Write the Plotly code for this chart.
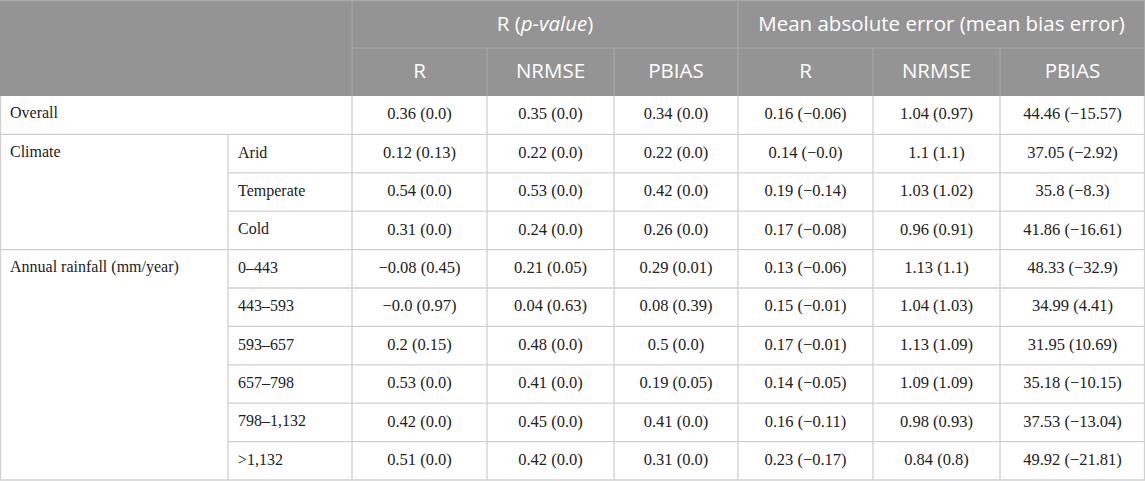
import plotly.graph_objects as go

# ---- table content ----
groups = ["R (<i>p-value</i>)", "Mean absolute error (mean bias error)"]
metrics = ["R", "NRMSE", "PBIAS"]

row_groups = ["Overall", "Climate", "Climate", "Climate",
              "Annual rainfall (mm/year)", "Annual rainfall (mm/year)",
              "Annual rainfall (mm/year)", "Annual rainfall (mm/year)",
              "Annual rainfall (mm/year)", "Annual rainfall (mm/year)"]
sub_labels = ["", "Arid", "Temperate", "Cold", "0–443", "443–593",
              "593–657", "657–798", "798–1,132", ">1,132"]

r_r = ["0.36 (0.0)", "0.12 (0.13)", "0.54 (0.0)", "0.31 (0.0)", "−0.08 (0.45)",
       "−0.0 (0.97)", "0.2 (0.15)", "0.53 (0.0)", "0.42 (0.0)", "0.51 (0.0)"]
r_nrmse = ["0.35 (0.0)", "0.22 (0.0)", "0.53 (0.0)", "0.24 (0.0)", "0.21 (0.05)",
           "0.04 (0.63)", "0.48 (0.0)", "0.41 (0.0)", "0.45 (0.0)", "0.42 (0.0)"]
r_pbias = ["0.34 (0.0)", "0.22 (0.0)", "0.42 (0.0)", "0.26 (0.0)", "0.29 (0.01)",
           "0.08 (0.39)", "0.5 (0.0)", "0.19 (0.05)", "0.41 (0.0)", "0.31 (0.0)"]
mae_r = ["0.16 (−0.06)", "0.14 (−0.0)", "0.19 (−0.14)", "0.17 (−0.08)", "0.13 (−0.06)",
         "0.15 (−0.01)", "0.17 (−0.01)", "0.14 (−0.05)", "0.16 (−0.11)", "0.23 (−0.17)"]
mae_nrmse = ["1.04 (0.97)", "1.1 (1.1)", "1.03 (1.02)", "0.96 (0.91)", "1.13 (1.1)",
             "1.04 (1.03)", "1.13 (1.09)", "1.09 (1.09)", "0.98 (0.93)", "0.84 (0.8)"]
mae_pbias = ["44.46 (−15.57)", "37.05 (−2.92)", "35.8 (−8.3)", "41.86 (−16.61)",
             "48.33 (−32.9)", "34.99 (4.41)", "31.95 (10.69)", "35.18 (−10.15)",
             "37.53 (−13.04)", "49.92 (−21.81)"]
data_cols = [r_r, r_nrmse, r_pbias, mae_r, mae_nrmse, mae_pbias]

# ---- layout sizes (pixels) ----
W, H = 1145, 481
col_edges = [0, 228, 352, 487, 614, 738, 873, 1000, 1145]
head_h = 48
row_h = 38.4
body_top = 2 * head_h

HEAD_BG = "#949494"
HEAD_LINE = "#a9a9a9"
BODY_LINE = "#d0d0d0"
TEXT = "#222222"

shapes = []


def line(x0, y0, x1, y1, color, w=1):
    shapes.append(dict(type="line", xref="x", yref="y", x0=x0, y0=y0, x1=x1, y1=y1,
                       line=dict(color=color, width=w), layer="above"))


# header background
shapes.append(dict(type="rect", xref="x", yref="y", x0=0, y0=0, x1=W, y1=body_top,
                   fillcolor=HEAD_BG, line=dict(width=0), layer="below"))

# header lines
grp_edges = [col_edges[2], col_edges[5], col_edges[8]]
for x in grp_edges[:-1]:
    line(x, 0, x, body_top, HEAD_LINE)
for x in [col_edges[3], col_edges[4], col_edges[6], col_edges[7]]:
    line(x, head_h, x, body_top, HEAD_LINE)
line(col_edges[2], head_h, W, head_h, HEAD_LINE)
line(0, 0.5, W, 0.5, HEAD_LINE)
line(W - 0.5, 0, W - 0.5, body_top, HEAD_LINE)

n = len(row_groups)
body_bot = body_top + n * row_h

# body horizontal lines
for i in range(n):
    yb = body_top + (i + 1) * row_h
    new_group = i == n - 1 or row_groups[i + 1] != row_groups[i]
    line(0 if new_group else col_edges[1], yb, W, yb, BODY_LINE, 1.3)

# body vertical lines
for x in col_edges[2:-1]:
    line(x, body_top, x, body_bot, BODY_LINE, 1.3)
first_sub = next(i for i, s in enumerate(sub_labels) if s)
line(col_edges[1], body_top + first_sub * row_h, col_edges[1], body_bot, BODY_LINE, 1.3)
line(0.5, body_top, 0.5, body_bot, BODY_LINE, 1.3)
line(W - 0.5, body_top, W - 0.5, body_bot, BODY_LINE, 1.3)

# ---- text ----
head_x, head_y, head_t = [], [], []
for g, txt in enumerate(groups):
    head_x.append((grp_edges[g] + grp_edges[g + 1]) / 2)
    head_y.append(head_h / 2 + 2)
    head_t.append(txt)
for c in range(6):
    head_x.append((col_edges[c + 2] + col_edges[c + 3]) / 2)
    head_y.append(head_h * 1.5 + 1)
    head_t.append(metrics[c % 3])

cell_x, cell_y, cell_t = [], [], []
for c, col in enumerate(data_cols):
    for i, v in enumerate(col):
        cell_x.append((col_edges[c + 2] + col_edges[c + 3]) / 2)
        cell_y.append(body_top + (i + 0.5) * row_h)
        cell_t.append(v)

lab_x, lab_y, lab_t = [], [], []
for i, g in enumerate(row_groups):
    if i == 0 or row_groups[i - 1] != g:
        lab_x.append(col_edges[0] + 10)
        lab_y.append(body_top + (i + 0.5) * row_h - 1)
        lab_t.append(g)
    if sub_labels[i]:
        lab_x.append(col_edges[1] + 10)
        lab_y.append(body_top + (i + 0.5) * row_h)
        lab_t.append(sub_labels[i])

fig = go.Figure()
fig.add_trace(go.Scatter(x=head_x, y=head_y, text=head_t, mode="text",
                         textposition="middle center", hoverinfo="skip",
                         textfont=dict(family="Open Sans", size=20.5, color="white")))
fig.add_trace(go.Scatter(x=cell_x, y=cell_y, text=cell_t, mode="text",
                         textposition="middle center", hoverinfo="skip",
                         textfont=dict(family="Liberation Serif", size=16.5, color=TEXT)))
fig.add_trace(go.Scatter(x=lab_x, y=lab_y, text=lab_t, mode="text",
                         textposition="middle right", hoverinfo="skip",
                         textfont=dict(family="Liberation Serif", size=16, color=TEXT)))

fig.update_layout(
    width=W, height=H,
    margin=dict(l=0, r=0, t=0, b=0),
    paper_bgcolor="white", plot_bgcolor="white",
    showlegend=False, shapes=shapes,
    xaxis=dict(range=[0, W], visible=False, fixedrange=True),
    yaxis=dict(range=[H, 0], visible=False, fixedrange=True),
)

fig.write_html("out.html", config={"displayModeBar": False},
               post_script="document.body.style.margin='0';"
                           "document.body.style.overflow='hidden';")
